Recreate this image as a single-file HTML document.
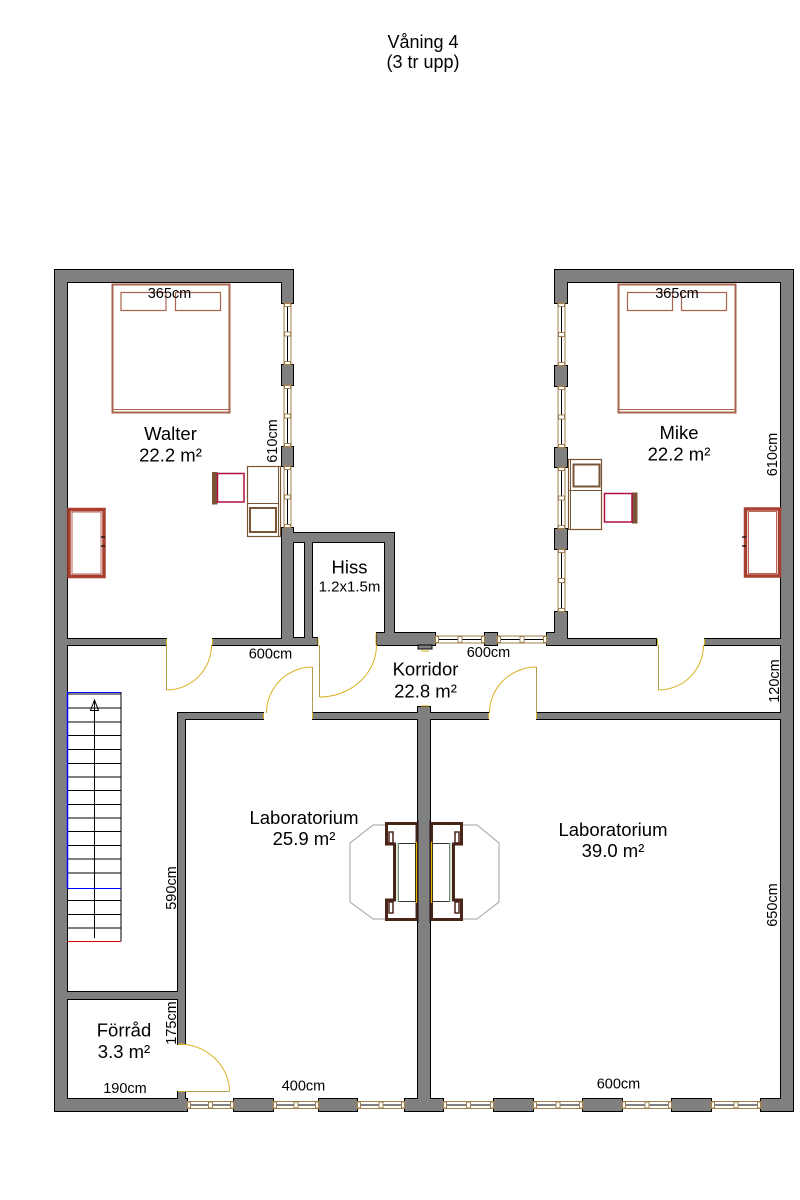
<!DOCTYPE html>
<html>
<head>
<meta charset="utf-8">
<style>
html,body{margin:0;padding:0;background:#fff;}
svg{display:block;}
text{font-family:"Liberation Sans",Arial,sans-serif;fill:#000;}
.lbl{font-size:18.5px;text-anchor:middle;}
.dim{font-size:14.5px;text-anchor:middle;}
</style>
</head>
<body>
<svg width="800" height="1200" viewBox="0 0 800 1200" xmlns="http://www.w3.org/2000/svg">
<rect x="0" y="0" width="800" height="1200" fill="#fff"/>

<text class="lbl" x="423" y="48" style="font-size:18px">Våning 4</text>
<text class="lbl" x="423" y="68" style="font-size:18px">(3 tr upp)</text>

<g fill="#808080" stroke="#000" stroke-width="2">
<rect x="55" y="270" width="238" height="12"/>
<rect x="55" y="270" width="12" height="841"/>
<rect x="282" y="270" width="11" height="33"/>
<rect x="282" y="365" width="11" height="20"/>
<rect x="282" y="447" width="11" height="19"/>
<rect x="282" y="528" width="11" height="117"/>
<rect x="282" y="533" width="112" height="9"/>
<rect x="305" y="533" width="7" height="112"/>
<rect x="385" y="533" width="9" height="112"/>
<rect x="282" y="638" width="35" height="7"/>
<rect x="67" y="639" width="99" height="6"/>
<rect x="213" y="639" width="69" height="6"/>
<rect x="377" y="633" width="58" height="12"/>
<rect x="485" y="633" width="12" height="12"/>
<rect x="547" y="633" width="20" height="12"/>
<rect x="555" y="612" width="12" height="33"/>
<rect x="555" y="366" width="12" height="20"/>
<rect x="555" y="448" width="12" height="19"/>
<rect x="555" y="529" width="12" height="20"/>
<rect x="555" y="270" width="12" height="33"/>
<rect x="555" y="270" width="238" height="12"/>
<rect x="781" y="270" width="12" height="841"/>
<rect x="567" y="639" width="89" height="6"/>
<rect x="705" y="639" width="76" height="6"/>
<rect x="178" y="713" width="85" height="6"/>
<rect x="313" y="713" width="175" height="6"/>
<rect x="537" y="713" width="244" height="6"/>
<rect x="418" y="707" width="12" height="392"/>
<rect x="178" y="713" width="7" height="331"/>
<rect x="67" y="992" width="111" height="7"/>
<rect x="178" y="1092" width="7" height="7"/>
<rect x="55" y="1099" width="132" height="12"/>
<rect x="234" y="1099" width="39" height="12"/>
<rect x="319" y="1099" width="38" height="12"/>
<rect x="405" y="1099" width="38" height="12"/>
<rect x="494" y="1099" width="39" height="12"/>
<rect x="583" y="1099" width="39" height="12"/>
<rect x="672" y="1099" width="39" height="12"/>
<rect x="761" y="1099" width="32" height="12"/>
</g>
<g fill="#808080" stroke="none">
<rect x="55" y="270" width="238" height="12"/>
<rect x="55" y="270" width="12" height="841"/>
<rect x="282" y="270" width="11" height="33"/>
<rect x="282" y="365" width="11" height="20"/>
<rect x="282" y="447" width="11" height="19"/>
<rect x="282" y="528" width="11" height="117"/>
<rect x="282" y="533" width="112" height="9"/>
<rect x="305" y="533" width="7" height="112"/>
<rect x="385" y="533" width="9" height="112"/>
<rect x="282" y="638" width="35" height="7"/>
<rect x="67" y="639" width="99" height="6"/>
<rect x="213" y="639" width="69" height="6"/>
<rect x="377" y="633" width="58" height="12"/>
<rect x="485" y="633" width="12" height="12"/>
<rect x="547" y="633" width="20" height="12"/>
<rect x="555" y="612" width="12" height="33"/>
<rect x="555" y="366" width="12" height="20"/>
<rect x="555" y="448" width="12" height="19"/>
<rect x="555" y="529" width="12" height="20"/>
<rect x="555" y="270" width="12" height="33"/>
<rect x="555" y="270" width="238" height="12"/>
<rect x="781" y="270" width="12" height="841"/>
<rect x="567" y="639" width="89" height="6"/>
<rect x="705" y="639" width="76" height="6"/>
<rect x="178" y="713" width="85" height="6"/>
<rect x="313" y="713" width="175" height="6"/>
<rect x="537" y="713" width="244" height="6"/>
<rect x="418" y="707" width="12" height="392"/>
<rect x="178" y="713" width="7" height="331"/>
<rect x="67" y="992" width="111" height="7"/>
<rect x="178" y="1092" width="7" height="7"/>
<rect x="55" y="1099" width="132" height="12"/>
<rect x="234" y="1099" width="39" height="12"/>
<rect x="319" y="1099" width="38" height="12"/>
<rect x="405" y="1099" width="38" height="12"/>
<rect x="494" y="1099" width="39" height="12"/>
<rect x="583" y="1099" width="39" height="12"/>
<rect x="672" y="1099" width="39" height="12"/>
<rect x="761" y="1099" width="32" height="12"/>
</g>
<rect x="418" y="645" width="14" height="4" fill="#808080" stroke="#000" stroke-width="1"/>
<line x1="421" y1="651" x2="429" y2="651" stroke="#d8b020" stroke-width="1"/>
<line x1="421" y1="706" x2="429" y2="706" stroke="#d8b020" stroke-width="1"/>

<g stroke="#a08050" stroke-width="1" fill="#fff">
<rect x="284" y="303" width="7" height="62"/>
<rect x="284" y="385" width="7" height="62"/>
<rect x="284" y="466" width="7" height="62"/>
<rect x="558" y="303" width="7" height="63"/>
<rect x="558" y="386" width="7" height="62"/>
<rect x="558" y="467" width="7" height="62"/>
<rect x="558" y="549" width="7" height="63"/>
<rect x="435" y="636" width="50" height="7"/>
<rect x="497" y="636" width="50" height="7"/>
<rect x="187" y="1101.5" width="47" height="7"/>
<rect x="273" y="1101.5" width="46" height="7"/>
<rect x="357" y="1101.5" width="48" height="7"/>
<rect x="443" y="1101.5" width="51" height="7"/>
<rect x="533" y="1101.5" width="50" height="7"/>
<rect x="622" y="1101.5" width="50" height="7"/>
<rect x="711" y="1101.5" width="50" height="7"/>
</g>
<g stroke="#000" stroke-width="1">
<line x1="287.5" y1="307" x2="287.5" y2="361"/>
<line x1="287.5" y1="389" x2="287.5" y2="443"/>
<line x1="287.5" y1="470" x2="287.5" y2="524"/>
<line x1="561.5" y1="307" x2="561.5" y2="362"/>
<line x1="561.5" y1="390" x2="561.5" y2="444"/>
<line x1="561.5" y1="471" x2="561.5" y2="525"/>
<line x1="561.5" y1="553" x2="561.5" y2="608"/>
<line x1="439" y1="639.5" x2="481" y2="639.5"/>
<line x1="501" y1="639.5" x2="543" y2="639.5"/>
<line x1="191" y1="1105" x2="230" y2="1105"/>
<line x1="277" y1="1105" x2="315" y2="1105"/>
<line x1="361" y1="1105" x2="401" y2="1105"/>
<line x1="447" y1="1105" x2="490" y2="1105"/>
<line x1="537" y1="1105" x2="579" y2="1105"/>
<line x1="626" y1="1105" x2="668" y2="1105"/>
<line x1="715" y1="1105" x2="757" y2="1105"/>
</g>
<g stroke="#a08050" stroke-width="1" fill="#fff">
<rect x="284.5" y="303.5" width="6" height="3"/><rect x="284.5" y="332" width="6" height="4"/><rect x="284.5" y="361.5" width="6" height="3"/>
<rect x="284.5" y="385.5" width="6" height="3"/><rect x="284.5" y="414" width="6" height="4"/><rect x="284.5" y="443.5" width="6" height="3"/>
<rect x="284.5" y="466.5" width="6" height="3"/><rect x="284.5" y="495" width="6" height="4"/><rect x="284.5" y="524.5" width="6" height="3"/>
<rect x="558.5" y="303.5" width="6" height="3"/><rect x="558.5" y="332.5" width="6" height="4"/><rect x="558.5" y="362.5" width="6" height="3"/>
<rect x="558.5" y="386.5" width="6" height="3"/><rect x="558.5" y="415" width="6" height="4"/><rect x="558.5" y="444.5" width="6" height="3"/>
<rect x="558.5" y="467.5" width="6" height="3"/><rect x="558.5" y="496" width="6" height="4"/><rect x="558.5" y="525.5" width="6" height="3"/>
<rect x="558.5" y="549.5" width="6" height="3"/><rect x="558.5" y="578.5" width="6" height="4"/><rect x="558.5" y="608.5" width="6" height="3"/>
<rect x="435.5" y="636.5" width="3" height="6"/><rect x="458" y="636.5" width="4" height="6"/><rect x="481.5" y="636.5" width="3" height="6"/>
<rect x="497.5" y="636.5" width="3" height="6"/><rect x="520" y="636.5" width="4" height="6"/><rect x="543.5" y="636.5" width="3" height="6"/>
<rect x="187.5" y="1102" width="3" height="6"/><rect x="208.5" y="1102" width="4" height="6"/><rect x="230.5" y="1102" width="3" height="6"/>
<rect x="273.5" y="1102" width="3" height="6"/><rect x="294" y="1102" width="4" height="6"/><rect x="315.5" y="1102" width="3" height="6"/>
<rect x="357.5" y="1102" width="3" height="6"/><rect x="379" y="1102" width="4" height="6"/><rect x="401.5" y="1102" width="3" height="6"/>
<rect x="443.5" y="1102" width="3" height="6"/><rect x="466.5" y="1102" width="4" height="6"/><rect x="490.5" y="1102" width="3" height="6"/>
<rect x="533.5" y="1102" width="3" height="6"/><rect x="556" y="1102" width="4" height="6"/><rect x="579.5" y="1102" width="3" height="6"/>
<rect x="622.5" y="1102" width="3" height="6"/><rect x="645" y="1102" width="4" height="6"/><rect x="668.5" y="1102" width="3" height="6"/>
<rect x="711.5" y="1102" width="3" height="6"/><rect x="734" y="1102" width="4" height="6"/><rect x="757.5" y="1102" width="3" height="6"/>
</g>

<g fill="none" stroke-width="1">
<line x1="166.5" y1="645" x2="166.5" y2="690" stroke="#b09a50"/>
<path d="M166.5,690 A45,45 0 0 0 211.5,645" stroke="#d8b020"/>
<line x1="319.5" y1="645" x2="319.5" y2="697" stroke="#b09a50"/>
<path d="M319.5,697 A57,52 0 0 0 376.5,645" stroke="#d8b020"/>
<line x1="658.5" y1="645" x2="658.5" y2="690" stroke="#b09a50"/>
<path d="M658.5,690 A45,45 0 0 0 703.5,645" stroke="#d8b020"/>
<line x1="312.5" y1="713" x2="312.5" y2="667" stroke="#b09a50"/>
<path d="M312.5,667 A46,46 0 0 0 266.5,713" stroke="#d8b020"/>
<line x1="536.5" y1="713" x2="536.5" y2="667" stroke="#b09a50"/>
<path d="M536.5,667 A47,46 0 0 0 489.5,713" stroke="#d8b020"/>
<line x1="179" y1="1091.5" x2="229.5" y2="1091.5" stroke="#b09a50"/>
<path d="M229.5,1091.5 A51,48 0 0 0 179,1044" stroke="#d8b020"/>
</g>
<g stroke="#d8b020" stroke-width="1">
<line x1="166.5" y1="639" x2="166.5" y2="645"/><line x1="212.5" y1="639" x2="212.5" y2="645"/>
<line x1="657.5" y1="639" x2="657.5" y2="645"/><line x1="704.5" y1="639" x2="704.5" y2="645"/>
<line x1="318" y1="638" x2="318" y2="645"/><line x1="376" y1="633" x2="376" y2="645"/>
<line x1="263.5" y1="713" x2="263.5" y2="719"/><line x1="312.5" y1="713" x2="312.5" y2="719"/>
<line x1="488.5" y1="713" x2="488.5" y2="719"/><line x1="536.5" y1="713" x2="536.5" y2="719"/>
<line x1="178" y1="1044.5" x2="185" y2="1044.5"/><line x1="178" y1="1091.5" x2="185" y2="1091.5"/>
</g>

<g stroke="#000" stroke-width="1" fill="none">
<line x1="121" y1="692" x2="121" y2="941.5"/>
<line x1="67.5" y1="888" x2="67.5" y2="941.5"/>
<line x1="67.5" y1="694" x2="121" y2="694"/>
<line x1="67.5" y1="708" x2="121" y2="708"/>
<line x1="67.5" y1="722" x2="121" y2="722"/>
<line x1="67.5" y1="735.5" x2="121" y2="735.5"/>
<line x1="67.5" y1="749.5" x2="121" y2="749.5"/>
<line x1="67.5" y1="763.5" x2="121" y2="763.5"/>
<line x1="67.5" y1="777" x2="121" y2="777"/>
<line x1="67.5" y1="790.5" x2="121" y2="790.5"/>
<line x1="67.5" y1="804.5" x2="121" y2="804.5"/>
<line x1="67.5" y1="818" x2="121" y2="818"/>
<line x1="67.5" y1="831.5" x2="121" y2="831.5"/>
<line x1="67.5" y1="845.5" x2="121" y2="845.5"/>
<line x1="67.5" y1="859" x2="121" y2="859"/>
<line x1="67.5" y1="873" x2="121" y2="873"/>
<line x1="67.5" y1="900.5" x2="121" y2="900.5"/>
<line x1="67.5" y1="914.5" x2="121" y2="914.5"/>
<line x1="67.5" y1="928" x2="121" y2="928"/>
<line x1="94.5" y1="700" x2="94.5" y2="938"/>
<path d="M94.5,700 L90.5,710.5 L98.5,710.5 Z"/>
</g>
<line x1="67" y1="692.5" x2="121" y2="692.5" stroke="#0000ff" stroke-width="1"/>
<line x1="67.5" y1="692" x2="67.5" y2="888" stroke="#0000ff" stroke-width="1.5"/>
<line x1="67.5" y1="888.5" x2="121" y2="888.5" stroke="#0000ff" stroke-width="1"/>
<line x1="67.5" y1="941.5" x2="121" y2="941.5" stroke="#e00000" stroke-width="1"/>

<g fill="none" stroke="#a8644c">
<rect x="112.5" y="284.5" width="117" height="128" stroke-width="2"/>
<line x1="113" y1="409.5" x2="229" y2="409.5" stroke-width="1"/>
<rect x="121" y="292.5" width="45" height="18" stroke-width="1.2"/>
<rect x="175.5" y="292.5" width="45" height="18" stroke-width="1.2"/>
<rect x="618.5" y="284.5" width="117" height="128" stroke-width="2"/>
<line x1="619" y1="409.5" x2="735" y2="409.5" stroke-width="1"/>
<rect x="627.5" y="292.5" width="45" height="18" stroke-width="1.2"/>
<rect x="681.5" y="292.5" width="45" height="18" stroke-width="1.2"/>
</g>

<g fill="#fff" stroke="#a84030" stroke-width="3.5">
<rect x="69" y="509.5" width="35" height="67"/>
<rect x="745.5" y="509" width="34" height="67"/>
</g>
<g fill="none" stroke="#a84030" stroke-width="0.8">
<rect x="72" y="512" width="29" height="62"/>
<rect x="748.5" y="511.5" width="28" height="62"/>
</g>
<g stroke="#000" stroke-width="1.2">
<line x1="101" y1="537" x2="105" y2="537"/><line x1="101" y1="546" x2="105" y2="546"/>
<line x1="742" y1="537" x2="746" y2="537"/><line x1="742" y1="546" x2="746" y2="546"/>
</g>

<g fill="#fff" stroke="#7a5535">
<rect x="247.5" y="466.5" width="33" height="70" stroke-width="1.2"/>
<line x1="278.5" y1="467" x2="278.5" y2="536" stroke-width="1"/>
<line x1="248" y1="503.5" x2="278" y2="503.5" stroke-width="1"/>
<rect x="250" y="508" width="26" height="24" stroke-width="2"/>
<rect x="212.5" y="472.5" width="4.5" height="31.5" fill="#7a5535" stroke-width="1"/>
<rect x="568.5" y="459.5" width="33" height="70" stroke-width="1.2"/>
<line x1="570.5" y1="460" x2="570.5" y2="529" stroke-width="1"/>
<line x1="569" y1="490.5" x2="601" y2="490.5" stroke-width="1"/>
<rect x="573.5" y="464.5" width="26" height="22" stroke-width="2"/>
<rect x="632.5" y="493" width="4.5" height="30" fill="#7a5535" stroke-width="1"/>
</g>
<rect x="217.5" y="473.5" width="26.5" height="28.5" fill="#fff" stroke="#b01040" stroke-width="1.5"/>
<rect x="604.5" y="493.5" width="27.5" height="28.5" fill="#fff" stroke="#b01040" stroke-width="1.5"/>

<g fill="none" stroke="#a0a0a0" stroke-width="1">
<path d="M385,825 L373,825 L350,843 L350,902 L373,919 L385,919"/>
<path d="M463,825 L477,825 L499,843 L499,902 L477,919 L463,919"/>
</g>
<g fill="#fff" stroke="#4a2418" stroke-width="3">
<path d="M386.5,823.5 L417,823.5 L417,919.5 L386.5,919.5 L386.5,900 L394.5,900 L394.5,844 L386.5,844 Z"/>
<path d="M461.5,823.5 L431.5,823.5 L431.5,919.5 L461.5,919.5 L461.5,900 L453.5,900 L453.5,844 L461.5,844 Z"/>
</g>
<g fill="none" stroke="#4a2418" stroke-width="1.5">
<rect x="389" y="832" width="4" height="11"/>
<rect x="389" y="902" width="4" height="11"/>
<rect x="455" y="832" width="4" height="11"/>
<rect x="455" y="902" width="4" height="11"/>
</g>
<g fill="#fff" stroke="#000" stroke-width="0.8">
<rect x="398.5" y="843.5" width="17" height="58"/>
<rect x="432.5" y="843.5" width="17" height="58"/>
</g>
<g stroke="#c4dec8" stroke-width="2">
<line x1="397.5" y1="843" x2="397.5" y2="902"/>
<line x1="450.5" y1="843" x2="450.5" y2="902"/>
</g>
<g stroke="#e8b800" stroke-width="1.2">
<line x1="416.5" y1="842" x2="416.5" y2="903"/>
<line x1="431.5" y1="842" x2="431.5" y2="903"/>
</g>
<rect x="418" y="820" width="12" height="103" fill="#808080"/>
<line x1="418" y1="820" x2="418" y2="923" stroke="#000" stroke-width="0.8"/>
<line x1="430" y1="820" x2="430" y2="923" stroke="#000" stroke-width="0.8"/>

<text class="lbl" x="170.5" y="440">Walter</text>
<text class="lbl" x="170.5" y="461.5">22.2 m²</text>
<text class="lbl" x="679" y="439">Mike</text>
<text class="lbl" x="679" y="460.5">22.2 m²</text>
<text class="lbl" x="349.5" y="573.5">Hiss</text>
<text class="dim" x="349.5" y="591.5" style="font-size:15px">1.2x1.5m</text>
<text class="lbl" x="425.5" y="675.5">Korridor</text>
<text class="lbl" x="425.5" y="697.5">22.8 m²</text>
<text class="lbl" x="304" y="824">Laboratorium</text>
<text class="lbl" x="304" y="845">25.9 m²</text>
<text class="lbl" x="613" y="836">Laboratorium</text>
<text class="lbl" x="613" y="857">39.0 m²</text>
<text class="lbl" x="124" y="1036.5">Förråd</text>
<text class="lbl" x="124" y="1058">3.3 m²</text>

<text class="dim" x="169.5" y="298">365cm</text>
<text class="dim" x="677" y="298">365cm</text>
<text class="dim" x="270.5" y="658.5">600cm</text>
<text class="dim" x="488.5" y="657">600cm</text>
<text class="dim" x="125" y="1093">190cm</text>
<text class="dim" x="303.5" y="1090.5">400cm</text>
<text class="dim" x="618.5" y="1088.5">600cm</text>
<text class="dim" transform="translate(277,441) rotate(-90)">610cm</text>
<text class="dim" transform="translate(777,454.5) rotate(-90)">610cm</text>
<text class="dim" transform="translate(779,681) rotate(-90)">120cm</text>
<text class="dim" transform="translate(176,888) rotate(-90)">590cm</text>
<text class="dim" transform="translate(176,1023) rotate(-90)">175cm</text>
<text class="dim" transform="translate(777,905) rotate(-90)">650cm</text>
</svg>
</body>
</html>
